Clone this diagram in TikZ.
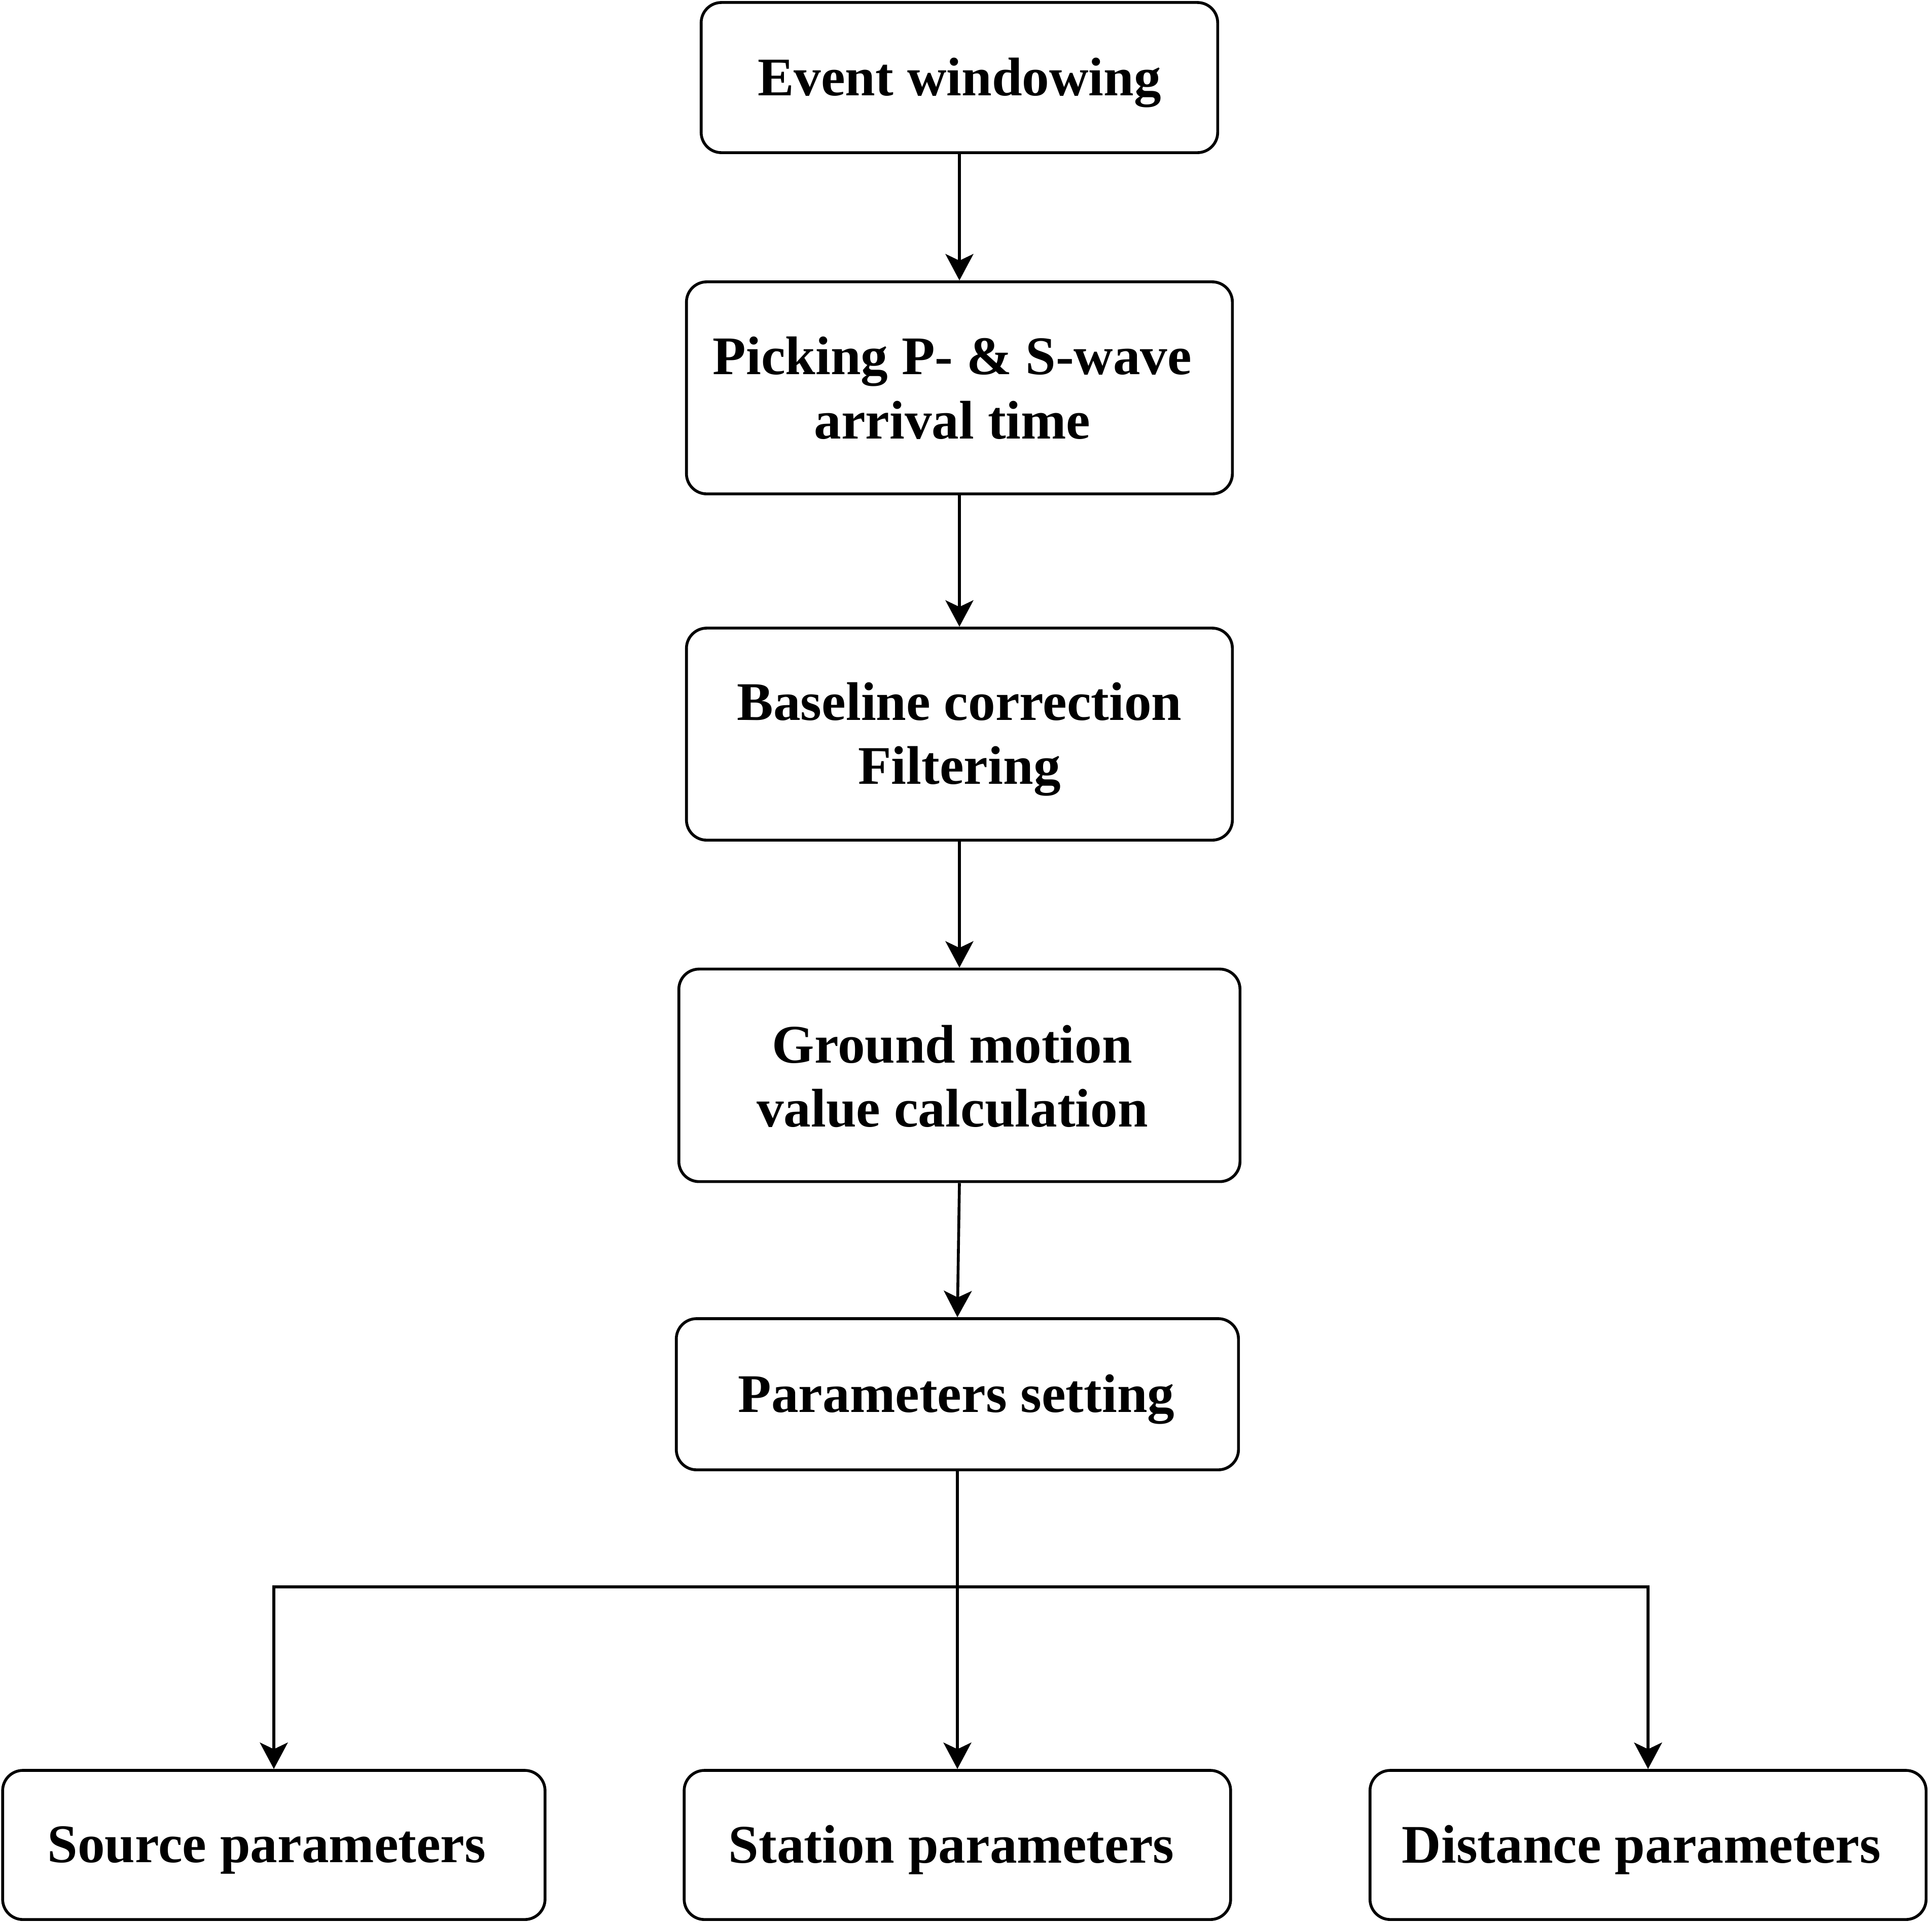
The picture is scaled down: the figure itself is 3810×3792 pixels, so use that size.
\documentclass[tikz,border=0pt]{standalone}
\usepackage{fontspec}
\setmainfont{Liberation Serif}
\usetikzlibrary{arrows.meta}
\begin{document}
\begin{tikzpicture}[x=0.01cm,y=-0.01cm,
  box/.style={draw=black,line width=1.6pt,rounded corners=0.4cm,fill=white,inner sep=0pt},
  lbl/.style={inner sep=0pt,align=center,
    font=\fontsize{30.5pt}{36pt}\selectfont\bfseries},
  arr/.style={draw=black,line width=1.6pt,
    -{Stealth[length=0.52cm,width=0.55cm,inset=0.13cm]}}]
\useasboundingbox (0,0) rectangle (3810,3792);
\node[box,minimum width=10.18cm,minimum height=2.96cm] (ev) at (1892,153) {};
\node[box,minimum width=10.76cm,minimum height=4.18cm] (pk) at (1892,765) {};
\node[box,minimum width=10.76cm,minimum height=4.18cm] (bl) at (1892,1448) {};
\node[box,minimum width=11.06cm,minimum height=4.19cm] (gm) at (1892,2121) {};
\node[box,minimum width=11.08cm,minimum height=2.98cm] (ps) at (1888,2750) {};
\node[box,minimum width=10.69cm,minimum height=2.94cm] (src) at (540,3639) {};
\node[box,minimum width=10.77cm,minimum height=2.94cm] (sta) at (1888,3639) {};
\node[box,minimum width=10.96cm,minimum height=2.94cm] (dis) at (3250,3639) {};
\node[lbl] (evt) at ([shift={(0,10)}]ev.center) {Event windowing};
\node[lbl] (pkt) at ([shift={(-14,0)}]pk.center) {Picking P- \& S-wave\\arrival time};
\node[lbl] (blt) at ([shift={(0,10)}]bl.center) {Baseline correction\\Filtering};
\node[lbl] (gmt) at ([shift={(-14,2)}]gm.center) {Ground motion\\value calculation};
\node[lbl] (pst) at ([shift={(-2,10)}]ps.center) {Parameters setting};
\node[lbl] (srct) at ([shift={(-14,10)}]src.center) {Source parameters};
\node[lbl] (stat) at ([shift={(-12,10)}]sta.center) {Station parameters};
\node[lbl] (dist) at ([shift={(-13,10)}]dis.center) {Distance parameters};
\coordinate (j) at (1888,3130);
\draw[arr] (ev) -- (pk);
\draw[arr] (pk) -- (bl);
\draw[arr] (bl) -- (gm);
\draw[arr] (gm.south) -- (ps.north);
\draw[arr] (ps.south) -- (sta.north);
\draw[arr] (j) -| (src.north);
\draw[arr] (j) -| (dis.north);
\end{tikzpicture}
\end{document}
